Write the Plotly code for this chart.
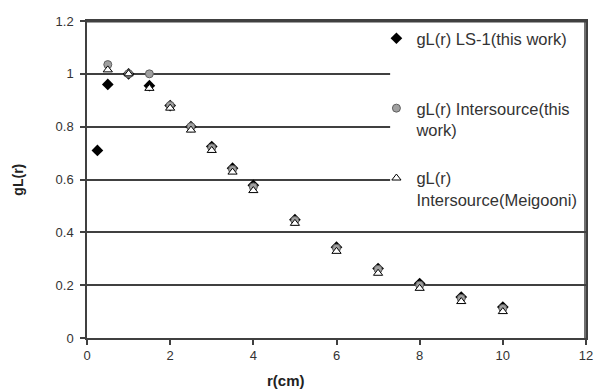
import plotly.graph_objects as go

# ---- data ----
r_ls1 = [0.25, 0.5, 1, 1.5, 2, 2.5, 3, 3.5, 4, 5, 6, 7, 8, 9, 10]
g_ls1 = [0.71, 0.96, 1.0, 0.955, 0.88, 0.80, 0.725, 0.643, 0.578, 0.448, 0.344, 0.263, 0.206, 0.155, 0.117]

r_inter = [0.5, 1, 1.5, 2, 2.5, 3, 3.5, 4, 5, 6, 7, 8, 9, 10]
g_inter = [1.035, 1.0, 1.0, 0.88, 0.80, 0.72, 0.638, 0.572, 0.445, 0.34, 0.26, 0.20, 0.15, 0.112]

r_meig = [0.5, 1, 1.5, 2, 2.5, 3, 3.5, 4, 5, 6, 7, 8, 9, 10]
g_meig = [1.015, 1.0, 0.945, 0.87, 0.787, 0.71, 0.628, 0.558, 0.434, 0.328, 0.245, 0.188, 0.138, 0.10]

names = ["gL(r) LS-1(this work)<br>\u00a0",
         "gL(r) Intersource(this<br>work)",
         "gL(r)<br>Intersource(Meigooni)"]

x_ticks = [0, 2, 4, 6, 8, 10, 12]
y_ticks = [0, 0.2, 0.4, 0.6, 0.8, 1.0, 1.2]

FONT = "Liberation Sans, Arial, sans-serif"

fig = go.Figure()
fig.add_trace(go.Scatter(
    x=r_ls1, y=g_ls1, mode="markers", name=names[0], legendgroup="a",
    marker=dict(symbol="diamond", size=9, color="#000000",
                line=dict(width=0))))
fig.add_trace(go.Scatter(
    x=r_inter, y=g_inter, mode="markers", name=names[1], legendgroup="b",
    marker=dict(symbol="circle", size=8, color="#a0a0a0",
                line=dict(width=1, color="#606060"))))
fig.add_trace(go.Scatter(
    x=r_meig, y=g_meig, mode="markers", name=names[2], legendgroup="c",
    marker=dict(symbol="triangle-up", size=8, color="#ffffff",
                line=dict(width=1, color="#000000"))))

# white legend area hiding the gridlines behind it
fig.add_shape(type="rect", xref="x", yref="y", x0=7.29, x1=12, y0=0.45, y1=1.19,
              fillcolor="white", line=dict(width=0), layer="between")
# top and right border lines
fig.add_shape(type="line", xref="paper", yref="paper", x0=0, x1=1, y0=0.998, y1=0.998,
              line=dict(color="#404040", width=1.5), layer="above")
fig.add_shape(type="line", xref="paper", yref="paper", x0=0.998, x1=0.998, y0=0, y1=1,
              line=dict(color="#404040", width=1.5), layer="above")

fig.add_annotation(text="<b>r(cm)</b>", xref="x", yref="paper", x=4.78, y=-0.135,
                   yanchor="middle", xanchor="center", showarrow=False,
                   font=dict(family=FONT, size=15, color="#222222"))
fig.add_annotation(text="<b>gL(r)</b>", xref="paper", yref="y", x=-0.14, y=0.6,
                   xanchor="center", yanchor="middle", textangle=-90, showarrow=False,
                   font=dict(family=FONT, size=14, color="#222222"))

fig.update_layout(
    width=595, height=390,
    margin=dict(l=87, r=9, t=21, b=52, autoexpand=False),
    paper_bgcolor="white", plot_bgcolor="white",
    font=dict(family=FONT, size=13, color="#333333"),
    showlegend=True,
    legend=dict(x=0.58, y=1.0, xanchor="left", yanchor="top",
                bgcolor="rgba(0,0,0,0)", borderwidth=0,
                font=dict(family=FONT, size=16.5, color="#333333"),
                traceorder="grouped", tracegroupgap=24, valign="top"),
    xaxis=dict(range=[0, 12], tickvals=x_ticks, ticktext=[str(v) for v in x_ticks],
               showgrid=False, zeroline=False, showline=True, mirror=True,
               automargin=False, linecolor="#404040", linewidth=1.5,
               ticks="outside", ticklen=5, tickcolor="#404040", tickwidth=1.5,
               tickfont=dict(size=13, color="#333333")),
    yaxis=dict(range=[0, 1.2], tickvals=y_ticks,
               ticktext=["0", "0.2", "0.4", "0.6", "0.8", "1", "1.2"],
               showgrid=True, gridcolor="#404040", gridwidth=1.5,
               zeroline=False, showline=True, mirror=True, automargin=False,
               linecolor="#404040", linewidth=1.5,
               ticks="outside", ticklen=5, tickcolor="#404040", tickwidth=1.5,
               ticklabelstandoff=4,
               tickfont=dict(size=13, color="#333333")),
)

# remove the browser's default 8px body margin so the figure fills the window
fig.write_html("out.html", config={"displayModeBar": False},
               post_script="document.body.style.margin='0';document.body.style.overflow='hidden';")
